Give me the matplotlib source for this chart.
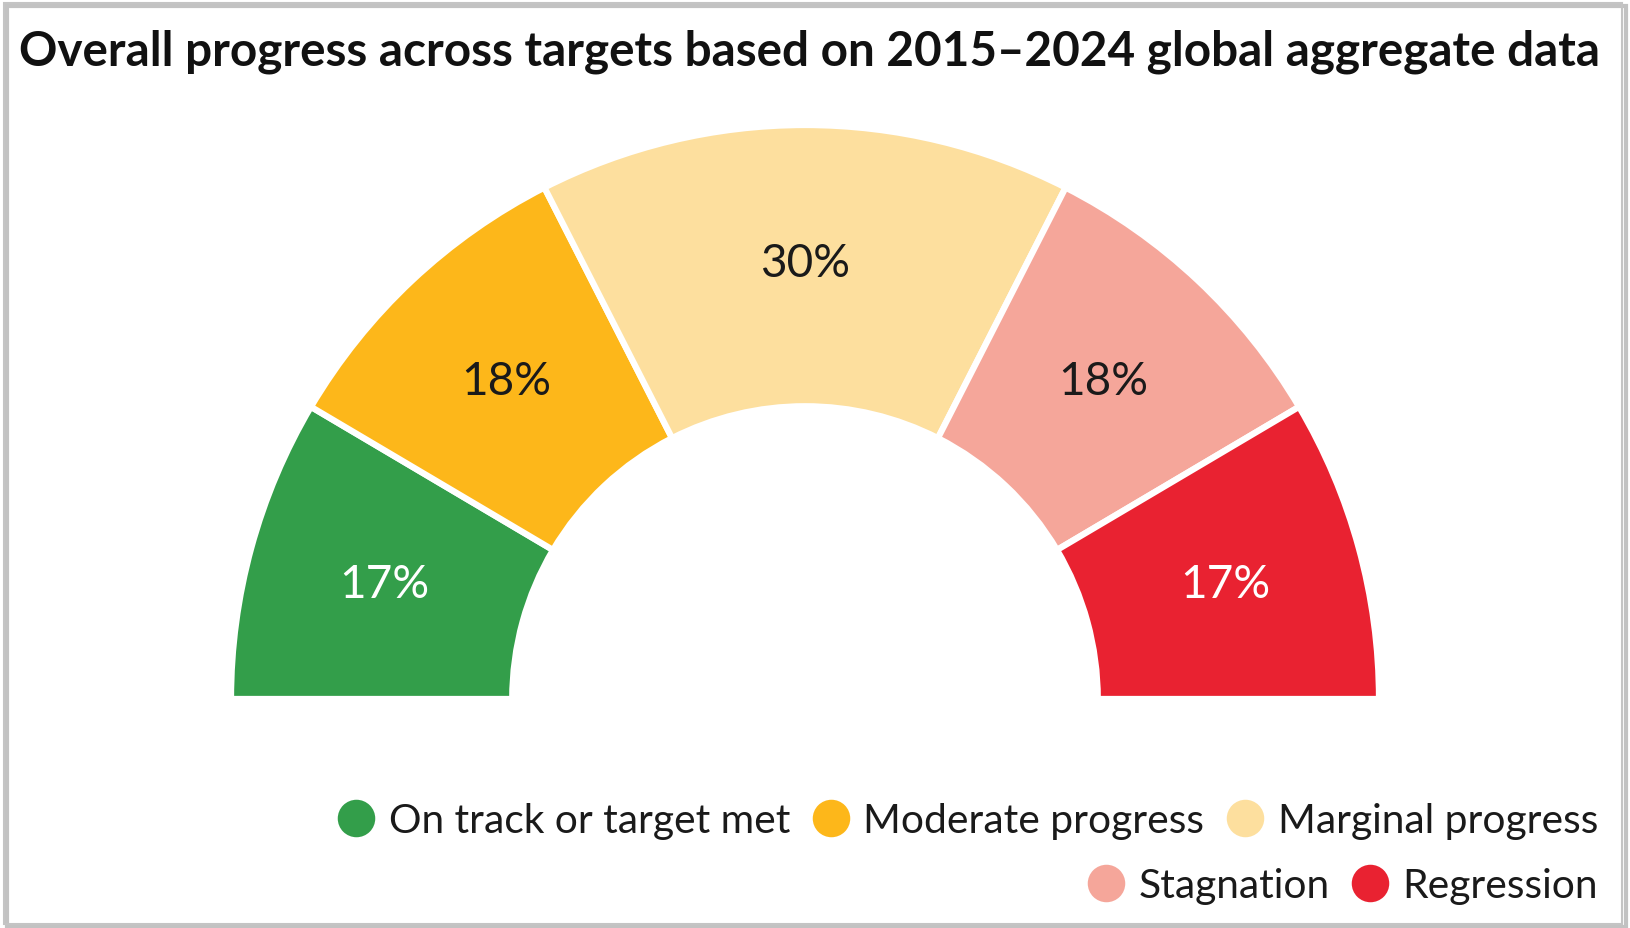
import matplotlib
matplotlib.use('Agg')
import matplotlib.pyplot as plt
from matplotlib.lines import Line2D
from matplotlib.patches import Rectangle

# data
categories = ["On track or target met", "Moderate progress", "Marginal progress",
              "Stagnation", "Regression"]
shares = [17, 18, 30, 18, 17]
colors = ["#339e4a", "#fdb71a", "#fddf9e", "#f5a69a", "#e92231"]
label_colors = ["white", "#1a1a1a", "#1a1a1a", "#1a1a1a", "white"]
title = "Overall progress across targets based on 2015\u20132024 global aggregate data"

W, H = 1631, 929
fig = plt.figure(figsize=(W / 100, H / 100), dpi=100)

# gauge geometry (pixels)
cx, cy, R = 805, 700, 574
ax = fig.add_axes([0, 0, 1, 1])
# hidden lower half makes the gauge a semicircle
wedges, texts, autotexts = ax.pie(
    shares + [sum(shares)],
    colors=colors + ["none"],
    startangle=180, counterclock=False,
    radius=1.0,
    autopct=lambda p: "",
    pctdistance=0.76,
    wedgeprops=dict(width=0.49, edgecolor="white", linewidth=4.5),
)
wedges[-1].set_edgecolor("none")
for t, val, c in zip(autotexts, shares, label_colors):
    t.set_text(f"{val}%")
    t.set_color(c)
    t.set_fontsize(33)
    t.set_family("Lato")
ax.set_aspect("auto")
ax.set_xlim(-cx / R, (W - cx) / R)
ax.set_ylim(-(H - cy) / R, cy / R)
ax.axis("off")

fig.text(0.4965, 1 - 52 / H, title, ha="center", va="center",
         fontsize=34.3, fontweight="bold", family="Lato", color="#111111")

# legend in two right-aligned rows
def handles(idx):
    return [Line2D([], [], marker="o", linestyle="none", markersize=27,
                   markerfacecolor=colors[i], markeredgecolor="none") for i in idx]

leg_kw = dict(loc="center right", frameon=False, borderpad=0, borderaxespad=0,
              handlelength=0.9, handletextpad=0.35, columnspacing=0.55,
              prop=dict(family="Lato", size=29.3))
row1 = [0, 1, 2]
row2 = [3, 4]
leg1 = fig.legend(handles(row1), [categories[i] for i in row1], ncol=3,
                  bbox_to_anchor=(1598 / W, 1 - 822 / H), **leg_kw)
leg2 = fig.legend(handles(row2), [categories[i] for i in row2], ncol=2,
                  bbox_to_anchor=(1598 / W, 1 - 887 / H), **leg_kw)
for lg in (leg1, leg2):
    for t in lg.get_texts():
        t.set_color("#1a1a1a")

# frame with soft shadow
fig.patches.append(Rectangle((7 / W, 1 / H), 1619 / W, 921 / H, transform=fig.transFigure,
                             facecolor="none", edgecolor="#9a9a9a", lw=3, alpha=0.6, zorder=0))
fig.patches.append(Rectangle((4 / W, 4 / H), 1618 / W, 921 / H, transform=fig.transFigure,
                             facecolor="none", edgecolor="#c4c4c4", lw=1.5, zorder=1))

fig.savefig("out.png", dpi=100)
